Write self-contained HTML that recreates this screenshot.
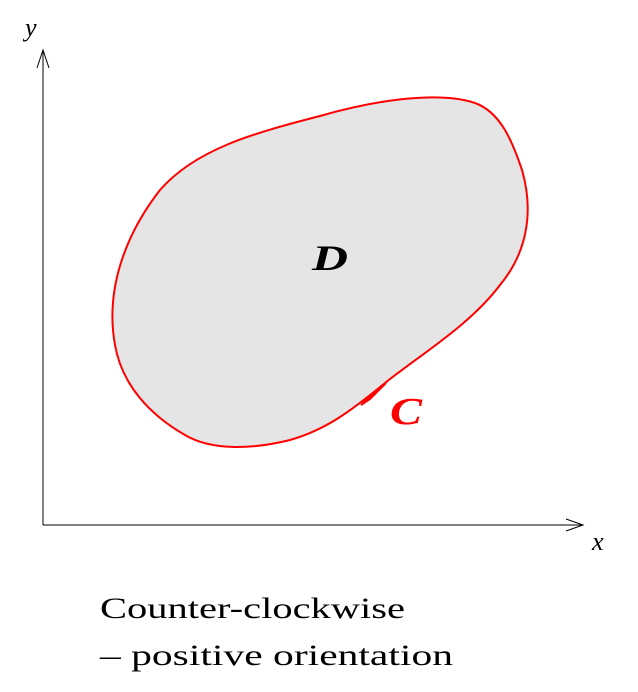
<!DOCTYPE html>
<html><head><meta charset="utf-8"><style>
body{margin:0;background:#fff;width:638px;height:692px;overflow:hidden}
svg{display:block}
</style></head><body>
<svg width="638" height="692" viewBox="0 0 638 692">
<path fill="#e5e5e5" stroke="red" stroke-width="2"
 d="M385,383 C420,355 470,325 500,285 C525,255 535,215 522,170 C512,140 500,112 475,103 C445,93 390,96 320,116 C250,134 195,150 160,190 C125,235 105,290 115,345 C122,385 150,415 185,435 C210,450 250,450 290,440 C325,430 350,412 385,383 Z"/>
<path d="M361,405 L386,383 L370,399 Z" fill="red" stroke="red" stroke-width="2"/>
<g stroke="#000" stroke-width="1" fill="none">
<line x1="43" y1="525" x2="43" y2="50"/>
<line x1="43" y1="525" x2="583" y2="525"/>
<path d="M37,68 L43,50 L49,68"/>
<path d="M566,519 L583,525 L566,531"/>
</g>
<text x="25" y="36" font-family="Liberation Serif, serif" font-style="italic" font-size="26">y</text>
<text x="592" y="550" font-family="Liberation Serif, serif" font-style="italic" font-size="26">x</text>
<text x="312" y="270" font-family="Liberation Serif, serif" font-style="italic" font-weight="bold" font-size="36" textLength="36" lengthAdjust="spacingAndGlyphs">D</text>
<text x="390" y="424" fill="red" font-family="Liberation Serif, serif" font-style="italic" font-weight="bold" font-size="38" textLength="32" lengthAdjust="spacingAndGlyphs">C</text>
<text x="100" y="618" font-family="Liberation Serif, serif" font-size="30" textLength="305" lengthAdjust="spacingAndGlyphs">Counter-clockwise</text>
<text x="100" y="665" font-family="Liberation Serif, serif" font-size="30" textLength="353" lengthAdjust="spacingAndGlyphs">– positive orientation</text>
</svg>
</body></html>
